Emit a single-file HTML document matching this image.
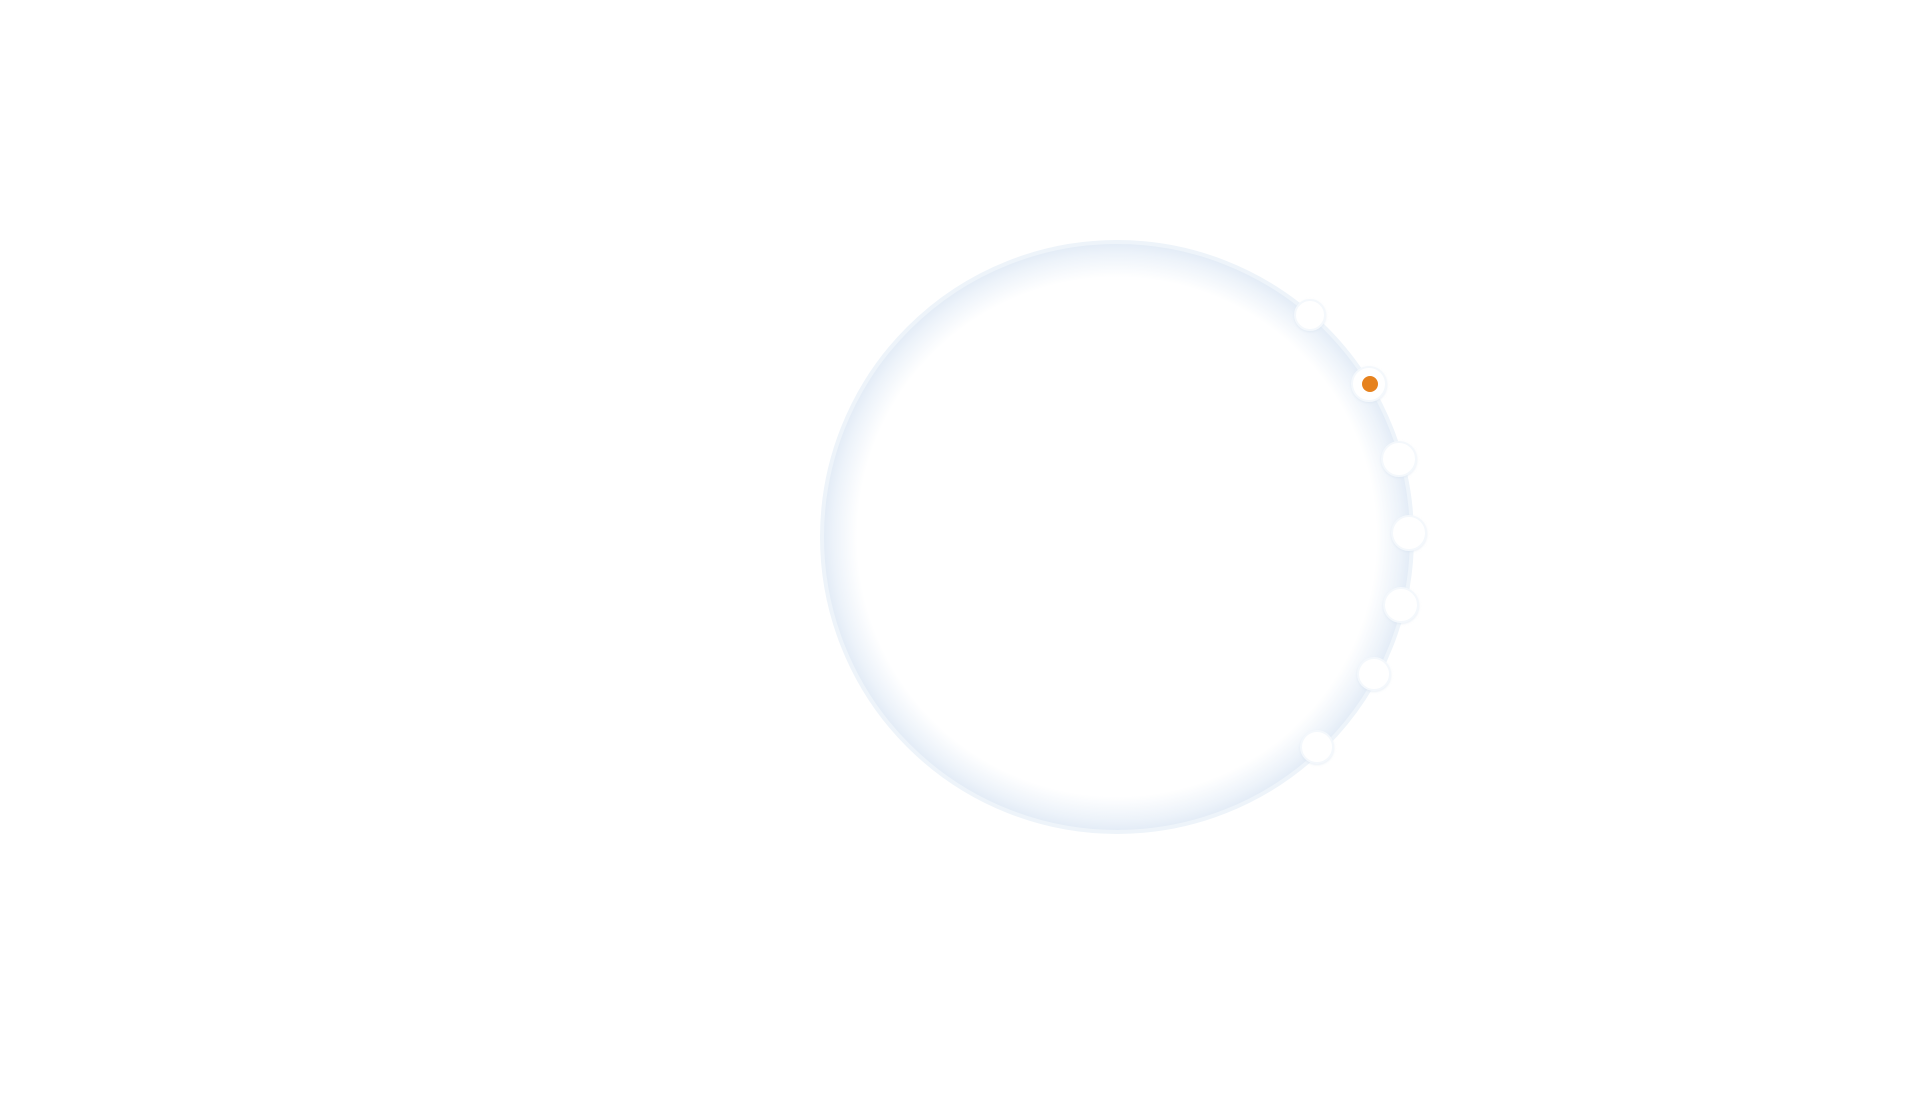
<!DOCTYPE html>
<html><head><style>
html,body{margin:0;padding:0;background:#fff;width:1920px;height:1096px;overflow:hidden;font-family:"Liberation Sans",sans-serif}
</style></head><body>
<svg width="1920" height="1096" viewBox="0 0 1920 1096" xmlns="http://www.w3.org/2000/svg">
<defs>
<radialGradient id="g" cx="1117" cy="537" r="295" gradientUnits="userSpaceOnUse">
<stop offset="0" stop-color="#ffffff"/>
<stop offset="0.88" stop-color="#ffffff"/>
<stop offset="0.96" stop-color="#edf3fa"/>
<stop offset="1" stop-color="#e2ebf6"/>
</radialGradient>
<filter id="s" x="-50%" y="-50%" width="200%" height="200%"><feDropShadow dx="0" dy="1" stdDeviation="1" flood-color="#d6e2ef" flood-opacity="0.5"/></filter>
</defs>
<circle cx="1117" cy="537" r="295" fill="url(#g)" stroke="#eef4fa" stroke-width="4"/>
<g fill="#fff" stroke="#f4f8fc" stroke-width="2" filter="url(#s)">
<circle cx="1310" cy="315" r="15"/>
<circle cx="1369" cy="384" r="17"/>
<circle cx="1399" cy="459" r="17"/>
<circle cx="1409" cy="533" r="17"/>
<circle cx="1401" cy="605" r="17"/>
<circle cx="1374" cy="674" r="16"/>
<circle cx="1317" cy="747" r="16"/>
</g>
<circle cx="1370" cy="384" r="8" fill="#e6821e"/>
</svg>
</body></html>
